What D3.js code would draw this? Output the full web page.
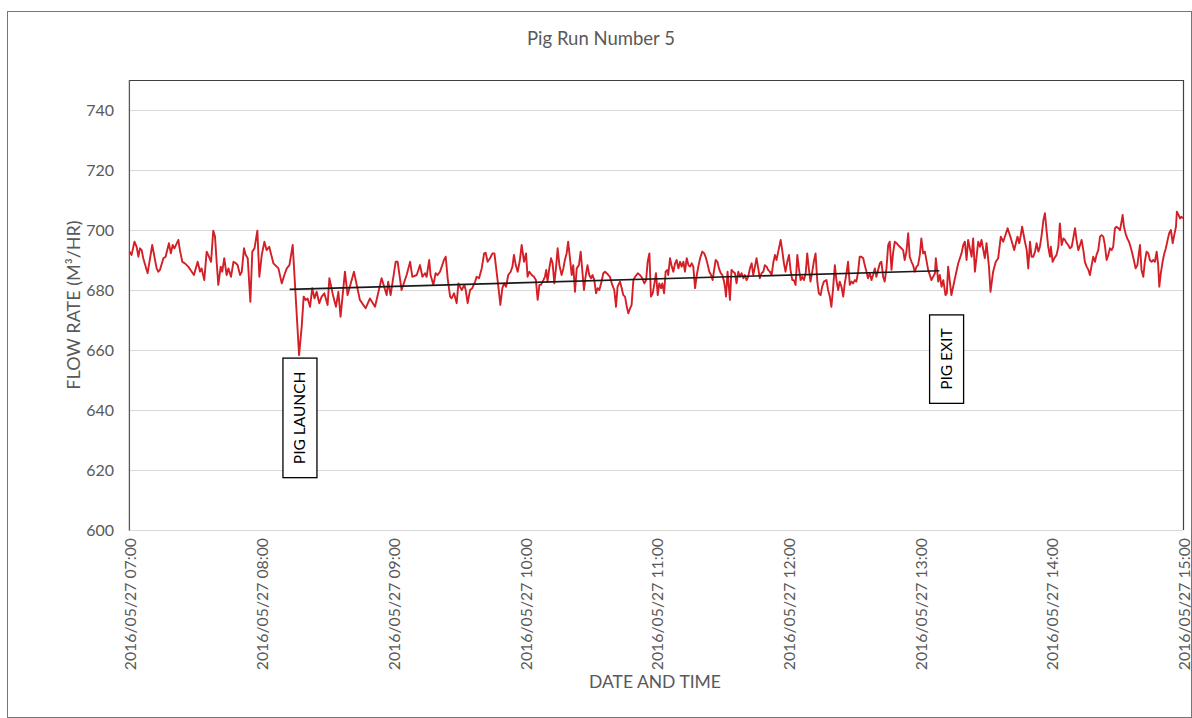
<!DOCTYPE html>
<html>
<head>
<meta charset="utf-8">
<script src="https://cdn.jsdelivr.net/npm/d3@7/dist/d3.min.js"></script>
<style>
  html, body { margin: 0; padding: 0; background: #ffffff; }
  svg { display: block; }
  text { font-family: Lato, "Open Sans", sans-serif; }
</style>
</head>
<body>
<svg id="chart" width="1192" height="718"></svg>
<script>
// Flow readings, minutes after 2016/05/27 07:00, and flow rate in m3/hr
const readingMinutes = [
  0,1.0,2.3,3.3,4.1,4.8,5.6,6.3,8.3,10.4,12.4,13.2,13.9,15.5,16.5,18.0,18.9,19.7,20.5,22.3,
  23.0,24.1,25.3,26.8,28.4,29.4,31.1,32.2,32.9,34.1,35.2,35.9,37.2,38.2,39.0,39.8,40.5,41.6,42.3,43.2,
  44.3,45.1,46.3,47.4,48.4,49.3,50.4,51.2,52.2,53.0,53.9,55.1,56.0,57.0,58.3,59.2,60.3,61.5,62.5,63.7,
  65.6,67.1,67.9,69.4,70.6,71.7,72.9,74.4,77.3,78.5,79.4,80.3,81.2,82.3,83.3,84.3,85.3,86.5,87.6,88.8,
  90.3,91.1,92.9,94.1,95.2,96.2,98.2,99.4,102.3,105.0,107.6,109.6,111.9,114.9,117.2,117.9,119.0,121.3,122.2,124.0,
  126.3,127.9,128.9,130.9,132.4,133.5,134.7,
  135.4,136.6,137.2,138.5,139.5,140.4,141.5,142.3,143.3,144.1,145.0,146.1,146.8,147.9,149.1,149.9,150.6,151.4,152.6,153.2,
  154.1,155.2,156.2,157.5,158.2,159.3,160.5,161.6,162.3,163.2,164.3,165.4,166.3,167.0,168.1,169.0,169.9,170.7,171.6,172.6,
  173.7,174.5,175.2,176.0,176.9,177.9,178.7,179.8,
  180.7,181.4,182.2,183.3,184.3,185.2,186.0,186.8,187.5,188.6,189.3,189.9,190.5,191.3,192.1,192.8,193.6,194.4,195.1,195.9,
  196.9,197.7,198.4,199.2,199.9,200.7,201.5,202.2,203.0,203.8,204.8,205.6,206.3,207.1,207.8,208.7,209.5,210.3,211.0,211.8,
  212.6,213.3,214.1,215.1,215.9,216.7,217.4,218.2,218.9,220.0,220.9,221.7,222.4,223.5,224.3,225.0,225.8,
  226.6,227.3,228.1,228.8,229.6,230.4,231.6,232.6,233.7,234.6,235.4,236.1,236.9,237.6,238.4,239.2,239.9,240.7,241.4,242.2,
  242.8,243.6,244.3,245.1,245.5,246.3,247.1,247.8,248.6,249.3,250.1,250.9,251.6,252.4,253.1,253.9,254.7,255.4,256.2,256.9,
  257.7,258.5,259.2,260.0,261.0,261.9,262.7,263.5,264.2,265.0,265.7,266.5,267.1,267.9,268.6,269.4,270.1,270.9,271.4,
  271.8,272.5,273.1,273.6,274.3,275.1,275.9,276.6,277.4,278.1,278.9,279.7,280.4,281.2,281.9,282.7,283.5,284.2,285.0,285.7,
  286.5,287.2,288.0,288.8,289.5,290.3,291.0,291.8,292.6,293.3,294.1,294.8,295.6,296.7,297.4,298.2,298.9,299.7,300.5,301.2,
  302.0,302.7,303.5,304.3,305.0,305.8,306.5,307.3,308.1,308.8,309.6,310.3,311.1,311.8,312.6,313.4,314.1,314.9,315.6,316.4,
  317.6,318.3,319.1,319.8,320.6,321.4,322.1,322.9,323.6,324.4,325.2,325.9,326.7,327.4,328.2,329.0,329.7,330.5,331.2,332.0,
  332.7,333.5,334.3,335.0,335.8,336.5,337.3,338.1,338.8,339.6,340.3,341.1,341.9,342.6,343.4,344.1,344.9,345.7,346.4,347.2,
  347.9,348.7,349.5,350.2,351.0,351.7,352.5,353.2,354.0,354.8,355.5,356.3,357.0,357.8,358.6,359.3,360.1,360.8,361.6,362.4,
  363.9,365.4,367.0,367.4,368.5,369.2,370.0,370.8,371.8,372.4,373.0,374.5,376.1,377.6,379.1,379.9,380.6,381.4,382.1,383.7,
  384.4,385.2,386.7,387.5,388.2,389.7,390.5,391.6,392.3,393.5,394.7,395.8,397.0,398.1,400.1,401.6,403.1,404.6,405.4,406.1,
  406.7,408.0,
  408.8,409.5,410.3,411.0,411.8,412.6,413.3,414.1,414.8,415.6,416.4,417.1,417.9,418.6,419.4,419.8,420.6,421.4,422.4,423.2,
  423.9,424.7,425.5,426.2,427.0,427.7,428.5,429.3,430.0,430.8,431.5,432.3,433.1,433.8,434.6,435.3,436.1,436.9,437.6,438.4,
  439.1,439.9,440.6,441.4,442.2,442.9,443.7,444.4,445.2,446.0,446.7,
  447.5,448.2,449.0,449.7,450.5,451.3,452.0,452.5,453.1,453.8,454.6,455.4,456.1,456.9,457.6,458.4,459.2,459.9,460.4,461.1,
  461.9,462.6,463.4,464.2,464.9,465.7,466.4,467.2,468.0,468.7,469.2,469.9,470.7,471.5,472.2,473.0,473.7,474.5,475.3,476.0,
  476.8,477.2,478.0,478.6,479.2,480.0
];
const flowRates = [
  692.8,691.7,696.1,694.4,691.1,693.9,693.3,690.6,685.6,695.0,687.2,686.1,686.7,690.6,691.1,695.6,692.2,695.0,693.9,696.7,
  693.3,689.4,688.9,687.8,686.1,685.0,689.4,686.1,687.2,683.3,692.8,691.7,689.4,699.8,697.8,688.9,681.7,687.8,686.1,690.6,
  685.0,687.2,684.4,689.4,689.0,688.3,685.0,686.1,693.9,691.7,690.6,676.1,692.8,693.9,699.8,684.4,691.7,696.1,693.3,694.4,
  688.9,687.8,687.2,682.2,685.0,687.2,688.3,695.0,658.3,667.8,677.8,676.7,677.2,674.4,680.6,677.2,679.4,675.6,677.8,678.9,
  675.0,683.9,677.8,674.4,679.4,671.1,686.1,678.3,686.1,676.7,673.9,677.2,674.4,683.9,678.3,682.8,678.3,689.4,689.4,680.0,
  685.0,689.4,684.4,685.0,688.3,684.4,685.6,
  684.4,690.0,685.0,681.7,685.6,685.0,686.1,687.8,690.0,691.1,683.9,677.8,677.2,678.9,675.6,682.2,681.1,680.0,681.7,680.0,
  675.6,680.0,680.6,682.8,684.4,683.9,687.2,692.2,692.4,689.4,690.6,692.2,692.2,687.8,681.1,675.0,680.6,682.2,681.1,685.0,
  686.1,687.8,691.7,688.3,686.1,690.0,695.0,689.4,
  692.2,684.4,686.1,685.0,684.4,683.3,676.7,681.7,681.7,683.3,684.4,686.7,682.8,687.2,690.6,688.9,682.2,687.8,693.9,688.3,
  685.0,687.2,690.0,692.2,696.1,690.6,685.0,688.3,679.4,687.2,688.3,692.8,686.7,680.0,684.4,688.3,685.0,683.9,685.0,683.3,
  678.9,680.6,680.0,682.8,685.6,686.1,685.6,685.0,684.4,681.7,680.0,674.4,681.1,682.8,680.6,678.3,677.8,
  674.4,672.2,673.9,675.0,683.3,684.4,685.6,685.0,683.9,682.2,683.3,689.4,692.2,677.8,678.9,682.2,685.6,678.3,682.2,680.6,
  682.2,678.9,686.1,686.7,685.0,690.6,687.8,686.1,688.9,690.0,687.2,689.4,687.8,689.4,686.1,690.6,688.3,687.8,688.9,687.8,
  680.6,685.0,687.8,690.6,692.8,692.2,690.6,688.3,686.1,685.0,683.3,687.2,690.0,689.4,687.2,685.6,685.0,682.8,680.6,
  677.8,686.1,681.1,676.7,686.7,686.1,685.6,682.2,686.1,684.4,685.6,683.9,685.0,683.3,684.4,687.2,688.9,685.0,687.8,690.6,
  687.2,683.9,685.6,686.1,688.3,687.8,686.7,686.1,685.0,688.9,691.7,690.0,692.8,696.7,693.3,688.9,686.1,689.4,691.7,686.7,
  683.3,683.3,681.7,691.7,687.2,683.3,684.4,683.3,685.6,692.2,686.7,682.8,686.1,689.4,692.2,682.8,678.9,678.3,681.1,682.8,
  683.3,680.0,677.8,674.4,680.6,688.3,683.3,680.0,682.8,681.1,677.8,682.2,685.6,689.4,681.7,682.8,682.2,683.3,682.8,686.1,
  691.1,691.1,690.6,688.3,686.1,683.9,685.6,683.3,685.0,687.2,684.4,686.7,688.9,689.4,684.4,682.8,687.2,695.0,696.1,686.7,
  692.2,696.1,695.6,695.0,694.4,693.9,693.3,690.0,692.8,698.9,691.1,689.4,688.3,686.1,687.8,688.3,691.7,697.2,692.2,692.8,
  686.7,683.3,685.6,690.6,682.8,685.0,681.1,683.3,678.3,678.9,687.8,678.3,683.9,688.9,692.2,695.0,696.1,690.0,696.7,691.1,
  697.2,686.1,696.1,694.4,696.7,690.6,695.6,687.8,679.4,686.1,689.4,690.6,697.8,696.1,700.6,697.2,693.3,697.8,695.6,698.3,
  701.1,696.1,
  693.3,687.2,696.1,691.1,691.1,692.8,695.6,692.8,694.4,698.3,703.3,705.6,699.4,694.4,691.1,694.4,689.4,690.6,691.7,694.4,
  702.2,695.0,697.2,696.7,695.6,695.0,693.9,694.4,697.2,700.6,696.7,693.3,695.0,696.7,693.3,689.4,687.8,686.7,685.0,688.3,
  691.1,689.4,691.7,693.3,697.8,698.3,697.8,695.0,690.0,691.7,693.9,
  693.3,694.4,700.6,701.1,700.6,700.0,702.8,705.0,701.1,698.9,697.2,696.1,694.4,692.2,690.0,687.2,688.3,692.2,695.0,686.7,
  684.4,689.4,692.8,692.2,690.0,689.4,690.0,689.4,692.8,688.3,681.1,685.6,689.4,692.2,693.9,696.7,698.9,700.0,695.6,698.3,
  701.1,706.1,705.0,703.9,704.4,703.9
];

// Straight line drawn between launch and exit
const trendMinutes = [73, 369];
const trendRates = [680.2, 686.4];

// Event call-outs
const eventLabels = ["PIG LAUNCH", "PIG EXIT"];
const eventMinutes = [77.7, 372.3];
const eventBoxTopRates = [657.3, 671.7];

// Axis settings
const yTickValues = [600, 620, 640, 660, 680, 700, 720, 740];
const hourTickLabels = ["07:00","08:00","09:00","10:00","11:00","12:00","13:00","14:00","15:00"];
const chartTitle = "Pig Run Number 5";
const yAxisTitle = "FLOW RATE (M\u00B3/HR)";
const xAxisTitle = "DATE AND TIME";

const startTime = new Date(2016, 4, 27, 7, 0, 0);
const toDate = m => new Date(startTime.getTime() + m * 60000);

const svg = d3.select("#chart");
const W = 1192, H = 718;
const plot = { left: 129.4, right: 1183, top: 80, bottom: 530 };

svg.append("rect").attr("width", W).attr("height", H).attr("fill", "#ffffff");
// outer chart frame
svg.append("rect")
  .attr("x", 7.5).attr("y", 11.5).attr("width", 1184).attr("height", 706)
  .attr("fill", "none").attr("stroke", "#767676").attr("stroke-width", 1);

const x = d3.scaleTime()
  .domain([toDate(0), toDate(480)])
  .range([plot.left, plot.right]);
const y = d3.scaleLinear()
  .domain([600, 750])
  .range([plot.bottom, plot.top]);

// horizontal gridlines
svg.append("g").selectAll("line")
  .data(yTickValues)
  .join("line")
  .attr("x1", plot.left).attr("x2", plot.right)
  .attr("y1", d => Math.round(y(d)) + 0.5).attr("y2", d => Math.round(y(d)) + 0.5)
  .attr("stroke", "#d9d9d9").attr("stroke-width", 1);

// plot area border (top, right) and left axis line
svg.append("path")
  .attr("d", `M${plot.left},${plot.top + 0.5}H${plot.right + 0.5}V${plot.bottom}`)
  .attr("fill", "none").attr("stroke", "#404040").attr("stroke-width", 1.2);
svg.append("line")
  .attr("x1", plot.left).attr("x2", plot.left)
  .attr("y1", plot.top).attr("y2", plot.bottom + 0.5)
  .attr("stroke", "#595959").attr("stroke-width", 1.3);

// y tick labels
svg.append("g").selectAll("text")
  .data(yTickValues)
  .join("text")
  .attr("x", 114).attr("y", d => y(d) + 5.8)
  .attr("text-anchor", "end")
  .attr("font-size", 16).attr("fill", "#595959")
  .text(d => d);

// x tick labels, rotated
const fmt = d3.timeFormat("%Y/%m/%d %H:%M");
const hourTicks = hourTickLabels.map((_, i) => toDate(i * 60));
svg.append("g").selectAll("text")
  .data(hourTicks)
  .join("text")
  .attr("transform", d => `translate(${x(d) + 7},538) rotate(-90)`)
  .attr("text-anchor", "end")
  .attr("font-size", 15.8).attr("fill", "#595959")
  .text(d => fmt(d));

// titles
svg.append("text")
  .attr("x", 601).attr("y", 45).attr("text-anchor", "middle")
  .attr("font-size", 18.5).attr("fill", "#595959").text(chartTitle);
svg.append("text")
  .attr("transform", "translate(80,305) rotate(-90)")
  .attr("text-anchor", "middle")
  .attr("font-size", 18).attr("fill", "#595959").text(yAxisTitle);
svg.append("text")
  .attr("x", 655).attr("y", 688).attr("text-anchor", "middle")
  .attr("font-size", 17.5).attr("fill", "#595959").text(xAxisTitle);

// flow series
const series = readingMinutes.map((m, i) => ({ t: toDate(m), v: flowRates[i] }));
const line = d3.line().x(d => x(d.t)).y(d => y(d.v));
svg.append("path")
  .datum(series)
  .attr("d", line)
  .attr("fill", "none")
  .attr("stroke", "#d41f26")
  .attr("stroke-width", 1.9)
  .attr("stroke-linejoin", "round");

// trend line
const trend = trendMinutes.map((m, i) => ({ t: toDate(m), v: trendRates[i] }));
svg.append("path")
  .datum(trend)
  .attr("d", line)
  .attr("fill", "none")
  .attr("stroke", "#1a1a1a")
  .attr("stroke-width", 1.6);

// event call-out boxes with vertical text
eventLabels.forEach((label, i) => {
  const g = svg.append("g");
  const cx = x(toDate(eventMinutes[i]));
  const top = y(eventBoxTopRates[i]);
  const t = g.append("text")
    .attr("font-size", 15.5).attr("fill", "#000000")
    .attr("text-anchor", "middle")
    .text(label);
  const len = t.node().getComputedTextLength();
  const boxH = len + 27, boxW = 34;
  t.attr("transform", `translate(${cx + 5.5},${top + boxH / 2}) rotate(-90)`);
  g.insert("rect", "text")
    .attr("x", cx - boxW / 2).attr("y", top)
    .attr("width", boxW).attr("height", boxH)
    .attr("fill", "#ffffff").attr("stroke", "#000000").attr("stroke-width", 1.3);
});
</script>
</body>
</html>
